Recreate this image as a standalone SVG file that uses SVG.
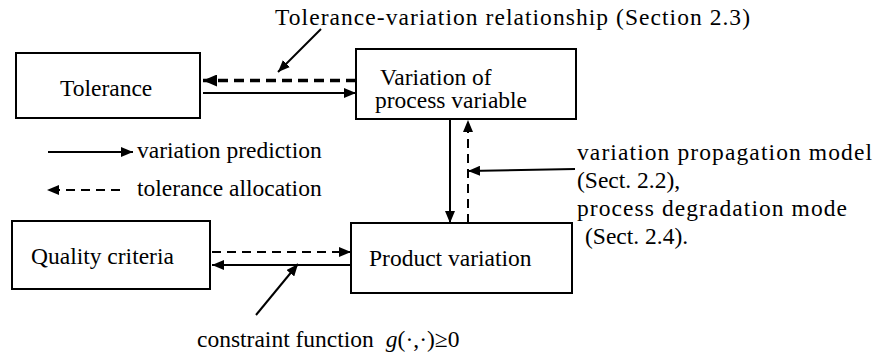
<svg xmlns="http://www.w3.org/2000/svg" width="878" height="358" viewBox="0 0 878 358">
<style>
.box{fill:#fff;stroke:#000;stroke-width:2}
.t{font-family:"Liberation Serif","Tinos","Times New Roman","DejaVu Serif",serif;font-size:23.5px;fill:#000}
.ln{stroke:#000;stroke-width:2;fill:none}
.ds{stroke:#000;stroke-width:2;fill:none;stroke-dasharray:9 6}
.dk{stroke:#000;stroke-width:3.5;fill:none;stroke-dasharray:10 6}
</style>
<defs>
<marker id="ah" viewBox="0 0 12 10" refX="12" refY="5" markerWidth="12" markerHeight="10" markerUnits="userSpaceOnUse" orient="auto">
<path d="M0,0 L12,5 L0,10 z" fill="#000"/>
</marker>
<marker id="ahb" viewBox="0 0 14 12" refX="14" refY="6" markerWidth="14" markerHeight="12" markerUnits="userSpaceOnUse" orient="auto">
<path d="M0,0 L14,6 L0,12 z" fill="#000"/>
</marker>
</defs>
<g id="connectors">
<line class="dk" x1="356" y1="80.5" x2="203" y2="80.5" marker-end="url(#ahb)"/>
<line class="ln" x1="203" y1="93" x2="356" y2="93" marker-end="url(#ah)"/>
<line class="ln" x1="321" y1="29" x2="278" y2="72" marker-end="url(#ah)"/>
<line class="ln" x1="450" y1="120" x2="450" y2="223" marker-end="url(#ah)"/>
<line class="ds" x1="468" y1="223" x2="468" y2="120" marker-end="url(#ah)"/>
<line class="ln" x1="575" y1="169" x2="468" y2="171" marker-end="url(#ah)"/>
<line class="ds" x1="212" y1="252" x2="351" y2="252" marker-end="url(#ah)"/>
<line class="ln" x1="351" y1="265" x2="212" y2="265" marker-end="url(#ah)"/>
<line class="ln" x1="256" y1="315" x2="298" y2="264" marker-end="url(#ah)"/>
<line class="ln" x1="48" y1="152" x2="133" y2="152" marker-end="url(#ah)"/>
<line class="ds" x1="120" y1="190" x2="47" y2="190" marker-end="url(#ah)"/>
</g>
<g id="tolerance">
<rect class="box" x="16" y="53" width="184" height="65"/>
<text class="t" x="60" y="96">Tolerance</text>
</g>
<g id="variation-process">
<rect class="box" x="356" y="49" width="220" height="70"/>
<text class="t" x="380" y="85">Variation of</text>
<text class="t" x="375" y="108">process variable</text>
</g>
<g id="quality">
<rect class="box" x="12" y="221" width="198" height="68"/>
<text class="t" x="31" y="264">Quality criteria</text>
</g>
<g id="product">
<rect class="box" x="351" y="223" width="221" height="70"/>
<text class="t" x="369" y="266">Product variation</text>
</g>
<g id="labels">
<text class="t" x="275" y="25" textLength="475" lengthAdjust="spacing">Tolerance-variation relationship (Section 2.3)</text>
<text class="t" x="137" y="158">variation prediction</text>
<text class="t" x="137" y="196">tolerance allocation</text>
<text class="t" x="577" y="160" textLength="295" lengthAdjust="spacing">variation propagation model</text>
<text class="t" x="577" y="188">(Sect. 2.2),</text>
<text class="t" x="577" y="216" textLength="270" lengthAdjust="spacing">process degradation mode</text>
<text class="t" x="585" y="244">(Sect. 2.4).</text>
<text class="t" x="197" y="347">constraint function<tspan dx="12" font-style="italic">g</tspan>(·,·)≥0</text>
</g>
</svg>
